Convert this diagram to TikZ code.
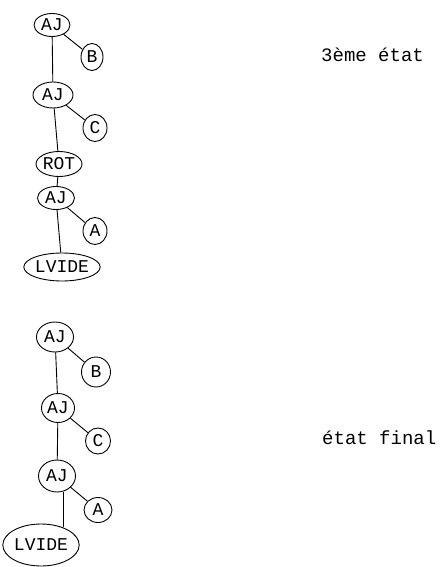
\documentclass[tikz,border=0pt]{standalone}
\usepackage{fontspec}
\setmonofont{Liberation Mono}
\usetikzlibrary{shapes.geometric}
\begin{document}
\begin{tikzpicture}[x=1pt,y=-1pt,
  lab/.style={font=\ttfamily\fontsize{18}{18}\selectfont},
  ell/.style={ellipse,draw,line width=0.9pt,inner sep=0pt,lab},
  circ/.style={ellipse,draw,line width=0.9pt,inner sep=0pt,lab,minimum width=24pt,minimum height=27pt},
  conn/.style={line width=0.9pt},
  captxt/.style={font=\ttfamily\fontsize{19}{19}\selectfont,anchor=west,inner sep=0pt}]
\useasboundingbox (0,0) rectangle (440,567);
% top tree: 3eme etat
\node[ell,minimum width=36pt,minimum height=23pt] (aj1) at (52,25) {AJ};
\node[circ,minimum width=22pt] (b1) at (92,57) {B};
\node[ell,minimum width=40pt,minimum height=26pt] (aj2) at (53,95) {AJ};
\node[circ] (c1) at (95,128) {C};
\node[ell,minimum width=46pt,minimum height=25pt] (rot) at (59,164) {ROT};
\node[ell,minimum width=37pt,minimum height=23pt] (aj3) at (56,198) {AJ};
\node[circ] (a1) at (95,231) {A};
\node[ell,minimum width=75pt,minimum height=28pt] (lv1) at (62,267) {LVIDE};
\draw[conn] (aj1) -- (b1);
\draw[conn] (aj1) -- (aj2);
\draw[conn] (aj2) -- (c1);
\draw[conn] (aj2) -- (rot);
\draw[conn] (rot) -- (aj3);
\draw[conn] (aj3) -- (a1);
\draw[conn] (aj3) -- (lv1);
\node[captxt] (t1) at (321,55) {3ème état};
% bottom tree: etat final
\node[ell,minimum width=37pt,minimum height=30pt] (aj4) at (55,337) {AJ};
\node[circ,minimum width=29pt,minimum height=30pt] (b2) at (96,372) {B};
\node[ell,minimum width=33pt,minimum height=29pt] (aj5) at (58,408) {AJ};
\node[circ,minimum width=25pt,minimum height=26pt] (c2) at (98,441) {C};
\node[ell,minimum width=37pt,minimum height=32pt] (aj6) at (57,476) {AJ};
\node[circ,minimum width=28pt,minimum height=25pt] (a2) at (98,510) {A};
\node[ell,minimum width=74pt,minimum height=42pt] (lv2) at (41,545) {LVIDE};
\draw[conn] (aj4) -- (b2);
\draw[conn] (aj4) -- (aj5);
\draw[conn] (aj5) -- (c2);
\draw[conn] (aj5) -- (aj6);
\draw[conn] (aj6) -- (a2);
\coordinate (lvtop) at (63,527);
\draw[conn] (aj6.south -| lvtop) -- (lvtop);
\node[captxt] (t2) at (322,438) {état final};
\end{tikzpicture}
\end{document}
